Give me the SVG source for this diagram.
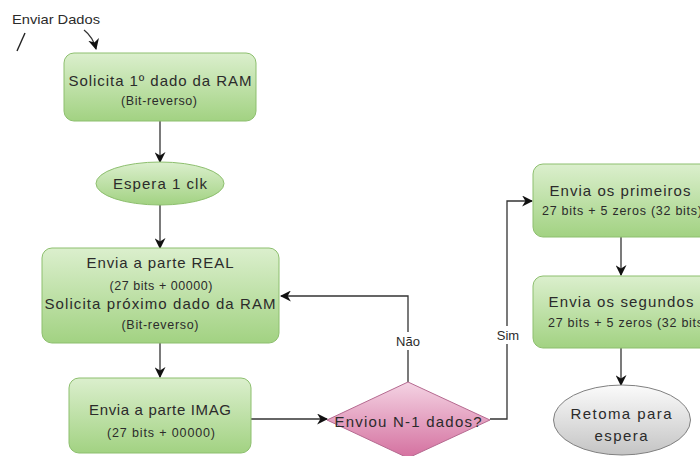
<svg xmlns="http://www.w3.org/2000/svg" width="700" height="456" viewBox="0 0 700 456">
  <style>
    .t { font-family: "Liberation Sans", Arial, sans-serif; fill: #2b2b2b; text-anchor: middle; }
    .big { font-size: 15px; }
    .small { font-size: 12.5px; }
    .box { fill: url(#gGreen); stroke: #8dbf6e; stroke-width: 1; }
    .dec { fill: url(#gPink); stroke: #b56a90; stroke-width: 1; }
    .end { fill: url(#gGray); stroke: #808080; stroke-width: 1; }
    .edge { fill: none; stroke: #333; stroke-width: 1.3; }
    .lbl { fill: #fff; }
  </style>
  <defs>
    <linearGradient id="gGreen" x1="0" y1="0" x2="0" y2="1">
      <stop offset="0" stop-color="#dbefcd"/>
      <stop offset="1" stop-color="#a2d282"/>
    </linearGradient>
    <linearGradient id="gPink" x1="0" y1="0" x2="0" y2="1">
      <stop offset="0" stop-color="#f4d3e3"/>
      <stop offset="1" stop-color="#d4709f"/>
    </linearGradient>
    <linearGradient id="gGray" x1="0" y1="0" x2="0" y2="1">
      <stop offset="0" stop-color="#fbfbfb"/>
      <stop offset="1" stop-color="#c4c4c4"/>
    </linearGradient>
    <marker id="arr" viewBox="0 0 10 10" refX="9" refY="5" markerWidth="11" markerHeight="11" markerUnits="userSpaceOnUse" orient="auto">
      <path d="M0,0 L10,5 L0,10 L3,5 Z" fill="#111"/>
    </marker>
  </defs>

  <!-- start label -->
  <g id="start">
    <text class="t" x="56" y="24" font-size="13.5" textLength="88" lengthAdjust="spacingAndGlyphs">Enviar Dados</text>
    <path d="M17,51 L25,33" stroke="#222" stroke-width="1.4" fill="none"/>
  </g>

  <!-- connectors -->
  <g id="connectors">
    <path class="edge" d="M84,30 Q93,37 96,49" marker-end="url(#arr)"/>
    <path class="edge" d="M160,121 L160,162" marker-end="url(#arr)"/>
    <path class="edge" d="M160,205 L160,248" marker-end="url(#arr)"/>
    <path class="edge" d="M160,343 L160,377" marker-end="url(#arr)"/>
    <path class="edge" d="M251,419 L327,419" marker-end="url(#arr)"/>
    <path class="edge" d="M408,382 L408,296 L281,296" marker-end="url(#arr)"/>
    <path class="edge" d="M490,419 L507,419 L507,201 L532,201" marker-end="url(#arr)"/>
    <path class="edge" d="M621,237 L621,275" marker-end="url(#arr)"/>
    <path class="edge" d="M621,348 L621,385" marker-end="url(#arr)"/>
    <rect class="lbl" x="392" y="332" width="32" height="18"/>
    <text class="t" font-size="13" x="408" y="346">Não</text>
    <rect class="lbl" x="494" y="326" width="28" height="18"/>
    <text class="t" font-size="13" x="508" y="340">Sim</text>
  </g>

  <g id="n1">
    <rect class="box" x="64" y="53" width="192" height="68" rx="10"/>
    <text class="t big" x="160" y="86" textLength="183" lengthAdjust="spacing">Solicita 1º dado da RAM</text>
    <text class="t small" x="159" y="105" textLength="76" lengthAdjust="spacing">(Bit-reverso)</text>
  </g>

  <g id="n2">
    <ellipse class="box" cx="160" cy="183.5" rx="64" ry="21.5"/>
    <text class="t big" x="160" y="189" textLength="94" lengthAdjust="spacing">Espera 1 clk</text>
  </g>

  <g id="n3">
    <rect class="box" x="42" y="248" width="237" height="95" rx="10"/>
    <text class="t big" x="160" y="268" textLength="147" lengthAdjust="spacing">Envia a parte REAL</text>
    <text class="t small" x="161" y="290" textLength="103" lengthAdjust="spacing">(27 bits + 00000)</text>
    <text class="t big" x="160" y="309" textLength="231" lengthAdjust="spacing">Solicita próximo dado da RAM</text>
    <text class="t small" x="160" y="329" textLength="77" lengthAdjust="spacing">(Bit-reverso)</text>
  </g>

  <g id="n4">
    <rect class="box" x="69" y="378" width="182" height="75" rx="10"/>
    <text class="t big" x="160" y="415" textLength="142" lengthAdjust="spacing">Envia a parte IMAG</text>
    <text class="t small" x="161" y="437" textLength="108" lengthAdjust="spacing">(27 bits + 00000)</text>
  </g>

  <g id="n5">
    <polygon class="dec" points="408,382 490,420 408,458 327,420"/>
    <text class="t big" x="408" y="427" textLength="147" lengthAdjust="spacing">Enviou N-1 dados?</text>
  </g>

  <g id="n6">
    <rect class="box" x="533" y="164" width="178" height="73" rx="10"/>
    <text class="t big" x="620" y="196" textLength="141" lengthAdjust="spacing">Envia os primeiros</text>
    <text class="t small" x="622" y="215" textLength="160" lengthAdjust="spacing">27 bits + 5 zeros (32 bits)</text>
  </g>

  <g id="n7">
    <rect class="box" x="533" y="276" width="178" height="72" rx="10"/>
    <text class="t big" x="621" y="307" textLength="145" lengthAdjust="spacing">Envia os segundos</text>
    <text class="t small" x="628" y="327" textLength="160" lengthAdjust="spacing">27 bits + 5 zeros (32 bits)</text>
  </g>

  <g id="n8">
    <ellipse class="end" cx="622" cy="420" rx="68.5" ry="35"/>
    <text class="t big" x="621" y="419" textLength="101" lengthAdjust="spacing">Retoma para</text>
    <text class="t big" x="621" y="441" textLength="53" lengthAdjust="spacing">espera</text>
  </g>
</svg>
